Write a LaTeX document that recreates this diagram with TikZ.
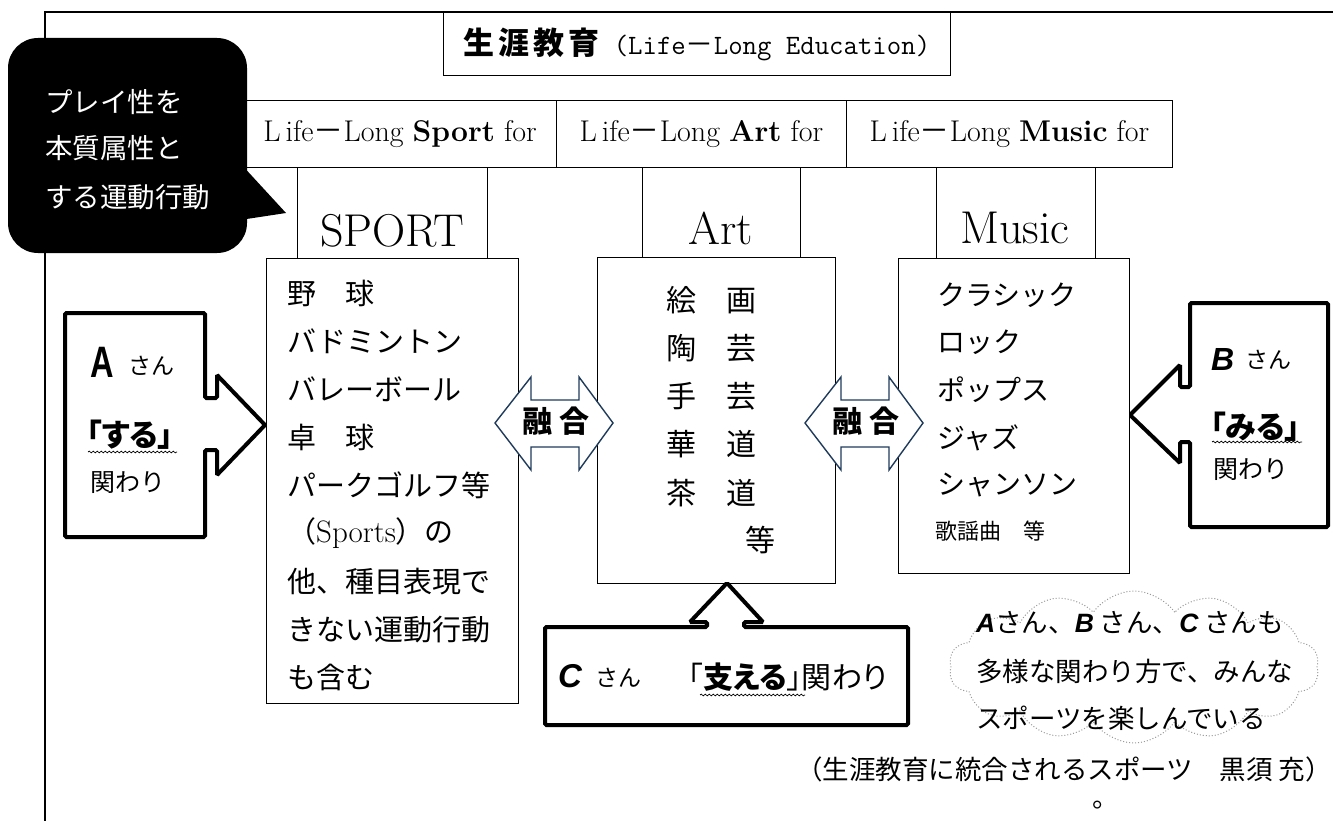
\documentclass[tikz,border=0pt]{standalone}
\usepackage{fontspec}
\usepackage{graphicx}
\newfontfamily\jp{Noto Sans CJK JP}
\newfontfamily\jpp{Noto Sans CJK JP}[RawFeature=+palt]
\newfontfamily\lat{Liberation Sans}
\usetikzlibrary{shapes.symbols,decorations.pathmorphing}
\definecolor{navy}{HTML}{1F3B5C}
\newcommand{\setsz}[1]{\fontsize{#1}{#1}\selectfont}
\newcommand{\who}[1]{{\lat\bfseries\itshape #1}}

\begin{document}
\begin{tikzpicture}[x=1pt,y=-1pt,
	box/.style={draw, line width=1pt, inner sep=0pt, anchor=north west},
	forbox/.style={box, minimum height=67, font=\setsz{30}},
	item/.style={anchor=west, inner sep=0pt},
	callout/.style={draw, fill=white, line width=4pt, rounded corners=1.5pt},
	fusion/.style={draw=navy, fill=white, line width=1.4pt},
	wavy/.style={decorate, decoration={snake, amplitude=0.9pt, segment length=4pt}, line width=0.7pt}]
	\useasboundingbox (0,0) rectangle (1333,821);
	
	% Frame
	\draw[line width=2pt] (45,821) -- (45,12) -- (1333,12);
	
	% Title
	\node[box, minimum width=507, minimum height=63] (TitleBox) at (443,12)
	{{\jp\bfseries\setsz{31}生\hspace{4pt}涯\hspace{4pt}教\hspace{4pt}育}\hspace{14pt}{\ttfamily\setsz{28}(Life{\jp －}Long Education)}};
	
	% Define Life-Long ... for
	\node[forbox, minimum width=313] (SportFor) at (243,100) {L\kern5pt ife{\jp －}Long \textbf{Sport} for};
	\node[forbox, minimum width=290] (ArtFor) at (556,100) {L\kern5pt ife{\jp －}Long \textbf{Art} for};
	\node[forbox, minimum width=326] (MusicFor) at (846,100) {L\kern5pt ife{\jp －}Long \textbf{Music} for};
	
	% Define SPORT
	\node[box, minimum width=190, minimum height=91] (SportHead) at (297,167) {};
	\node[font=\setsz{46}, inner sep=0pt] (SportName) at (392,231) {SPORT};
	\node[box, minimum width=252, minimum height=445] (SportList) at (266,258) {};
	\foreach \txt [count=\i from 0] in {野　球, バドミントン, バレーボール, 卓　球, パークゴルフ等, {（{\rmfamily\setsz{31}Sports}）の}, 他、種目表現で, きない運動行動, も含む}
		\node[item, font=\jp\setsz{29}] (Sport\i) at (287,293+48.1*\i) {\txt};
	
	% Define Art
	\node[box, minimum width=158, minimum height=90] (ArtHead) at (642,167) {};
	\node[font=\setsz{46}, inner sep=0pt] (ArtName) at (721,228) {Art};
	\node[box, minimum width=238, minimum height=326] (ArtList) at (597,257) {};
	\foreach \txt [count=\i from 0] in {絵　画, 陶　芸, 手　芸, 華　道, 茶　道}
		\node[item, font=\jp\setsz{30}] (Art\i) at (666,300+48.2*\i) {\txt};
	\node[font=\jp\setsz{30}, inner sep=0pt] (ArtEtc) at (760,540) {等};
	
	% Define Music
	\node[box, minimum width=159, minimum height=91] (MusicHead) at (936,167) {};
	\node[font=\setsz{46}, inner sep=0pt] (MusicName) at (1015,228) {Music};
	\node[box, minimum width=231, minimum height=315] (MusicList) at (898,258) {};
	\foreach \txt [count=\i from 0] in {クラシック, ロック, ポップス, ジャズ, シャンソン}
		\node[item, font=\jp\setsz{28}] (Music\i) at (937,295+47.5*\i) {\txt};
	\node[item, font=\jp\setsz{22}] (MusicEtc) at (935,531) {歌謡曲　等};
	
	% Fusion arrows
	\draw[fusion] (495,423) -- (531,377) -- (531,400) -- (579,400) -- (579,377) -- (613,423)
		-- (579,470) -- (579,447) -- (531,447) -- (531,470) -- cycle;
	\node[font=\jp\bfseries\setsz{30}] (FuseLeft) at (556,421) {融\hspace{8pt}合};
	\draw[fusion] (805,423) -- (841,377) -- (841,400) -- (889,400) -- (889,377) -- (923,423)
		-- (889,470) -- (889,447) -- (841,447) -- (841,470) -- cycle;
	\node[font=\jp\bfseries\setsz{30}] (FuseRight) at (866,421) {融\hspace{8pt}合};
	
	% Callout A
	\draw[callout] (65,313) -- (205,313) -- (205,398) -- (217,398) -- (217,375) -- (265,425)
		-- (217,475) -- (217,450) -- (205,450) -- (205,537) -- (65,537) -- cycle;
	\node[anchor=base west, inner sep=0pt] (NameA) at (90,377) {\scalebox{0.74}[1]{\lat\bfseries\setsz{44}A}};
	\node[item, font=\jp\setsz{23}] (SanA) at (128,366) {さん};
	\node[item, font=\jpp\bfseries\setsz{31}] (DoA) at (86,435) {「する」};
	\draw[wavy] (88,452) -- (177,452);
	\node[item, font=\jp\setsz{25}] (RelA) at (90,483) {関わり};
	
	% Callout B
	\draw[callout] (1190,303) -- (1328,303) -- (1328,527) -- (1190,527) -- (1190,442) -- (1180,442)
		-- (1180,463) -- (1130,415) -- (1180,365) -- (1180,387) -- (1190,387) -- cycle;
	\node[anchor=base west, inner sep=0pt] (NameB) at (1211,370) {\who{\setsz{32}B}};
	\node[item, font=\jp\setsz{23}] (SanB) at (1245,360) {さん};
	\node[item, font=\jpp\bfseries\setsz{31}] (SeeB) at (1210,427) {「みる」};
	\draw[wavy] (1212,442) -- (1302,442);
	\node[item, font=\jp\setsz{25}] (RelB) at (1213,470) {関わり};
	
	% Callout C
	\draw[callout] (545,627) -- (707,627) -- (707,622) -- (690,622) -- (727,583) -- (763,622)
		-- (744,622) -- (744,627) -- (908,627) -- (908,725) -- (545,725) -- cycle;
	\node[anchor=base west, inner sep=0pt] (NameC) at (558,687) {\who{\setsz{33}C}};
	\node[item, font=\jp\setsz{23}] (SanC) at (595,678) {さん};
	\node[item, font=\jpp\setsz{30}] (HoldC) at (688,677) {「{\bfseries 支える}」関わり};
	\draw[wavy] (700,695) -- (805,695);
	
	% Black callout
	\fill[rounded corners=30pt] (8,38) rectangle (247,253);
	\fill (240,163) -- (286,213) -- (240,220) -- cycle;
	\node[item, text=white, font=\jp\setsz{27.5}] (Play1) at (45,102) {プレイ性を};
	\node[item, text=white, font=\jp\setsz{27.5}] (Play2) at (45,148) {本質属性と};
	\node[item, text=white, font=\jp\setsz{27.5}] (Play3) at (45,197) {する運動行動};
	
	% Cloud
	\node[cloud, draw=gray!80, dotted, line width=1pt, cloud puffs=14, cloud puff arc=110, aspect=2.6,
		minimum width=370, minimum height=152, inner sep=0pt] (Cloud) at (1134,667) {};
	\node[item, font=\jp\setsz{26.5}] (Cloud1) at (976,623) {\who{A}さん、\who{B} さん、\who{C} さんも};
	\node[item, font=\jp\setsz{26.5}] (Cloud2) at (976,671) {多様な関わり方で、みんな};
	\node[item, font=\jp\setsz{26.5}] (Cloud3) at (976,718) {スポーツを楽しんでいる};
	
	% Source
	\node[anchor=east, inner sep=0pt, font=\jp\setsz{26.5}] (Source) at (1332,769) {（生涯教育に統合されるスポーツ　黒須 充）};
	\node[font=\jp\setsz{26.5}, inner sep=0pt] (Dot) at (1106,805) {。};
\end{tikzpicture}
\end{document}
